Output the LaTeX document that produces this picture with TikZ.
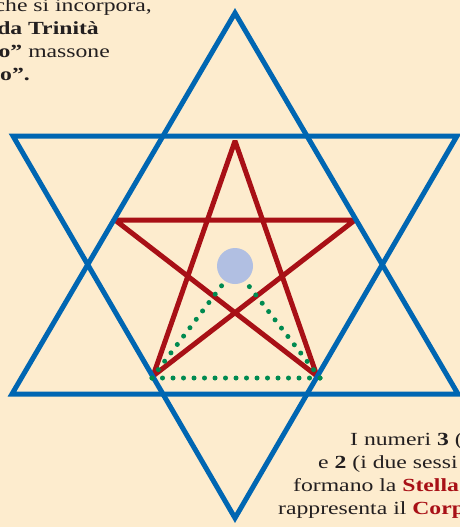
\documentclass[tikz,border=0pt]{standalone}
\usepackage{graphicx}
\usepackage{fontspec}
\setmainfont{Liberation Serif}
\definecolor{bg}{RGB}{253,236,206}
\definecolor{starblue}{RGB}{0,102,178}
\definecolor{starred}{RGB}{168,16,22}
\definecolor{dotgreen}{RGB}{0,138,80}
\definecolor{orb}{RGB}{177,191,226}
\definecolor{txt}{RGB}{35,31,32}
\newcommand{\wide}[1]{\scalebox{1.28}[1]{#1}}
\begin{document}
\begin{tikzpicture}[x=1pt,y=-1pt,
  bluestar/.style={draw=starblue,line width=5pt,line join=miter},
  redstar/.style={draw=starred,line width=5pt,line join=bevel},
  dotline/.style={draw=dotgreen,line width=5pt,line cap=round,dash pattern=on 0pt off 10.5pt},
  lbl/.style={inner sep=0pt,font=\fontsize{18.5}{22}\selectfont,text=txt}]
\fill[bg] (0,0) rectangle (460,527);
\useasboundingbox (0,0) rectangle (460,527);
\clip (0,0) rectangle (460,527);
% blue hexagram
\coordinate (ua) at (235,13);
\coordinate (ul) at (12,394);
\coordinate (ur) at (458,394);
\coordinate (dl) at (13,136);
\coordinate (dr) at (457,136);
\coordinate (db) at (235,518);
% red pentagram
\coordinate (pt) at (235,141);
\coordinate (pl) at (115,220);
\coordinate (pr) at (355,220);
\coordinate (pbl) at (153,376);
\coordinate (pbr) at (317,376);
\draw[redstar] (pt) -- (pbl) -- (pr) -- (pl) -- (pbr) -- cycle;
\draw[bluestar] (ua) -- (ul) -- (ur) -- cycle;
\draw[bluestar] (dl) -- (dr) -- (db) -- cycle;
% green dotted triangle
\coordinate (gl) at (152,378);
\coordinate (gr) at (320,378);
\coordinate (gt) at (235,268);
\draw[dotline] (gl) -- (gr);
\draw[dotline] (gl) -- (gt);
\draw[dotline] (gr) -- (gt);
\node[circle,fill=orb,minimum size=36pt,inner sep=0pt] (sun) at (235,266) {};
% top-left text
\node[lbl,anchor=base east] (t1) at (152,12) {\wide{che si incorpora,}};
\node[lbl,anchor=base east] (t2) at (99,35) {\wide{\bfseries da Trinità}};
\node[lbl,anchor=base east] (t3) at (110,57) {\wide{\textbf{o”} massone}};
\node[lbl,anchor=base east] (t4) at (30,80) {\wide{\bfseries o”.}};
% bottom-right text
\node[lbl,anchor=base west] (b1) at (350,445) {\wide{I numeri \textbf{3} (}};
\node[lbl,anchor=base west] (b2) at (318,468) {\wide{e \textbf{2} (i due sessi}};
\node[lbl,anchor=base west] (b3) at (293,491) {\wide{formano la \textbf{\textcolor{starred}{Stella}}}};
\node[lbl,anchor=base west] (b4) at (278,514) {\wide{rappresenta il \textbf{\textcolor{starred}{Corp}}}};
\end{tikzpicture}
\end{document}
